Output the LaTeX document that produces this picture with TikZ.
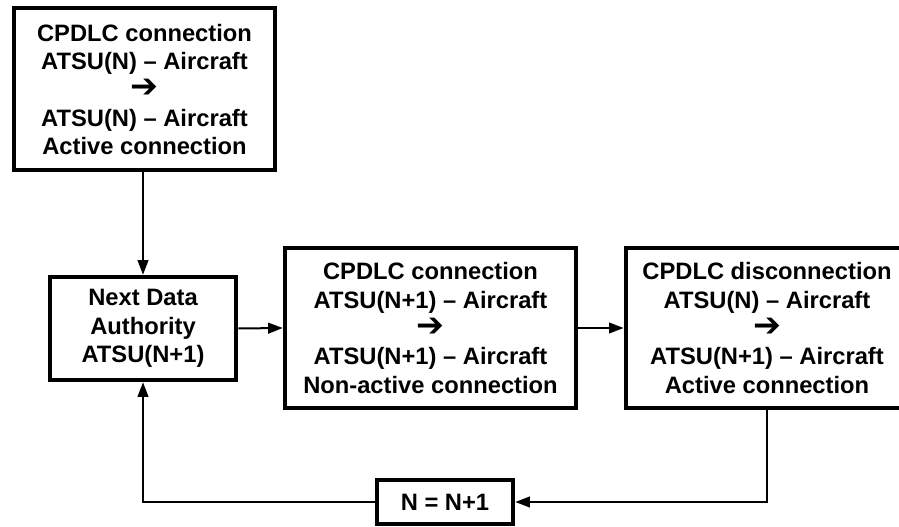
\documentclass[tikz,border=0pt]{standalone}
\usepackage{fontspec}
\setmainfont{Liberation Sans}
\newfontfamily\symfont{DejaVu Sans}
\usepackage{tikz}
\usetikzlibrary{arrows.meta, positioning}

\newcommand{\goesto}{{\symfont\bfseries\fontsize{25}{21.3}\selectfont ➔}}

\begin{document}
\begin{tikzpicture}[
    x=0.75pt, y=-0.75pt,
    box/.style={rectangle, draw=black, line width=3pt, inner sep=0pt, align=center, font=\fontsize{17.8}{21.3}\selectfont\bfseries},
    arrow/.style={-{Triangle[length=11pt, width=8pt]}, line width=1.5pt, black}
]

\useasboundingbox (0,0) rectangle (899,527);

% Current connection
\node[box, minimum width=195.75pt, minimum height=121.5pt] (cur) at (144.5,89.5) {
    CPDLC connection\\
    ATSU(N) -- Aircraft\\
    \goesto\\
    ATSU(N) -- Aircraft\\
    Active connection
};

% Next data authority
\node[box, minimum width=140pt, minimum height=77.6pt] (nda) at (143,328.5) {
    Next Data\\
    Authority\\
    ATSU(N+1)
};

% Connection with next ATSU
\node[box, minimum width=218.6pt, minimum height=120.4pt] (conn) at (430.5,328) {
    CPDLC connection\\
    ATSU(N+1) -- Aircraft\\
    \goesto\\
    ATSU(N+1) -- Aircraft\\
    Non-active connection
};

% Disconnection of current ATSU
\node[box, minimum width=212pt, minimum height=120.4pt] (disc) at (767,328) {
    CPDLC disconnection\\
    ATSU(N) -- Aircraft\\
    \goesto\\
    ATSU(N+1) -- Aircraft\\
    Active connection
};

% Counter
\node[box, minimum width=102.4pt, minimum height=32.6pt] (inc) at (445,502) {N = N+1};

% Arrows
\draw[arrow] (cur.south -| nda.north) -- (nda.north);
\draw[arrow] (nda.east) -- (conn.west);
\draw[arrow] (conn.east) -- (disc.west);
\draw[arrow] (disc.south) |- (inc.east);
\draw[arrow] (inc.west) -| (nda.south);

\end{tikzpicture}
\end{document}
